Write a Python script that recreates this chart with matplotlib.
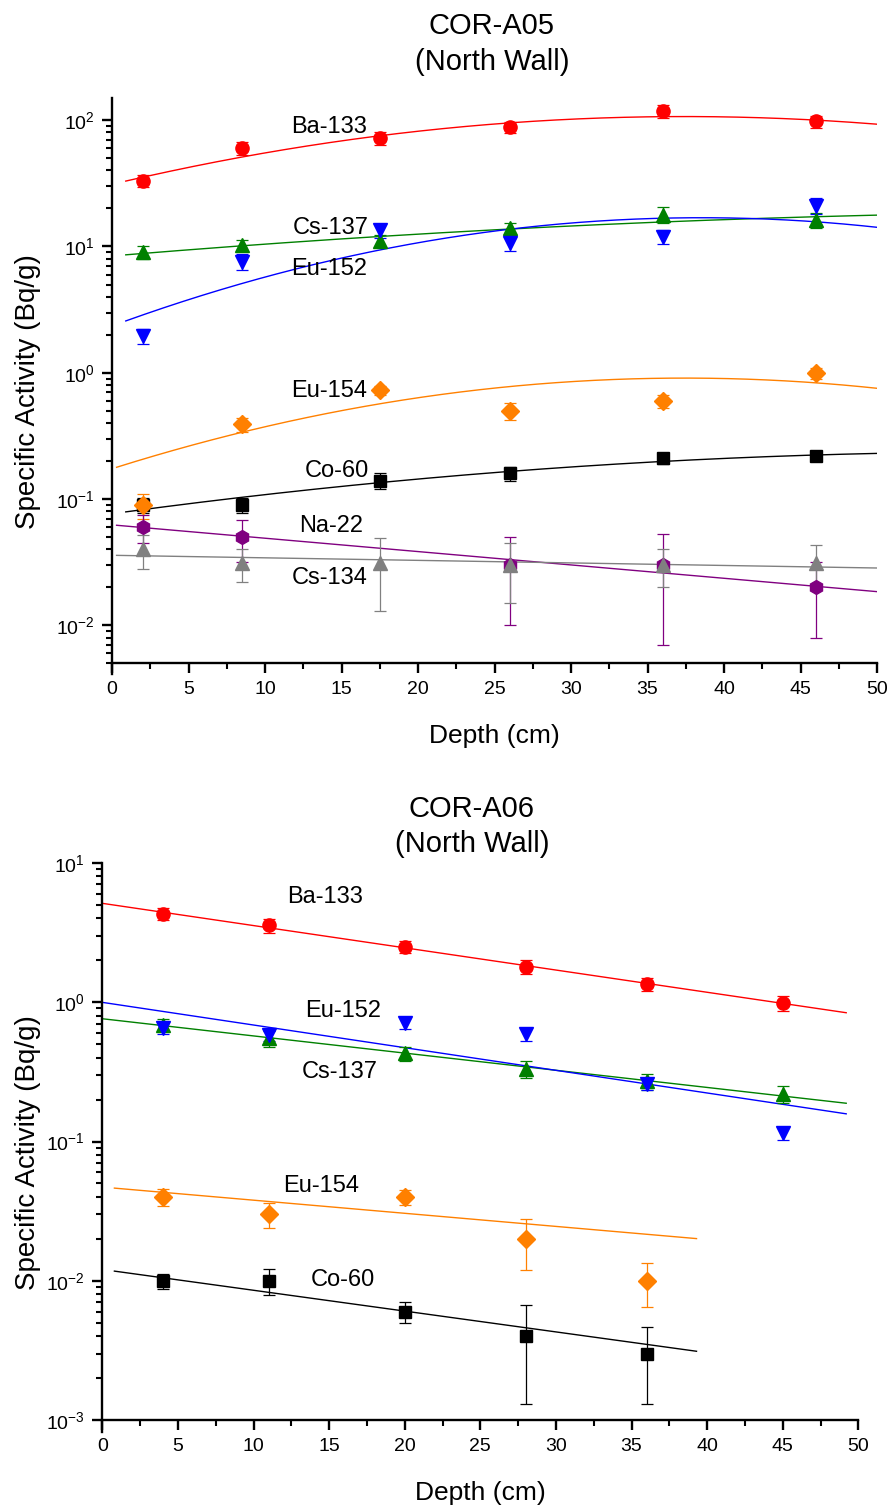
import numpy as np
import matplotlib.pyplot as plt
from matplotlib.ticker import MultipleLocator, LogLocator, NullFormatter

plt.rcParams['font.family'] = ['Liberation Sans', 'DejaVu Sans']
plt.rcParams['mathtext.default'] = 'regular'

# COR-A05 core (north wall)
depth_a05 = [2, 8.5, 17.5, 26, 36, 46]
ba133_a05 = [33, 60, 72, 88, 118, 98]
ba133_a05_err = [3.6, 7, 8, 9, 14, 11]
cs137_a05 = [9.0, 10.2, 11.1, 13.9, 17.9, 16.1]
cs137_a05_err = [1.0, 1.0, 1.2, 1.5, 2.5, 2.2]
eu152_a05 = [1.95, 7.6, 13.4, 10.6, 12.0, 21.0]
eu152_a05_err = [0.27, 1.05, 1.7, 1.35, 1.5, 3.0]
eu154_a05 = [0.09, 0.39, 0.73, 0.50, 0.60, 1.0]
eu154_a05_err = [0.02, 0.05, 0.06, 0.08, 0.07, 0.1]
co60_a05 = [0.09, 0.09, 0.14, 0.16, 0.21, 0.22]
co60_a05_err = [0.012, 0.012, 0.02, 0.02, 0.02, 0.015]
depth_na22_a05 = [2, 8.5, 26, 36, 46]
na22_a05 = [0.06, 0.05, 0.03, 0.03, 0.02]
na22_a05_err = [0.015, 0.018, 0.02, 0.023, 0.012]
cs134_a05 = [0.04, 0.031, 0.031, 0.03, 0.03, 0.031]
cs134_a05_err = [0.012, 0.009, 0.018, 0.015, 0.01, 0.012]

# COR-A06 core (north wall)
depth_a06 = [4, 11, 20, 28, 36, 45]
ba133_a06 = [4.3, 3.55, 2.5, 1.8, 1.35, 0.98]
ba133_a06_err = [0.4, 0.4, 0.26, 0.2, 0.15, 0.12]
eu152_a06 = [0.65, 0.58, 0.71, 0.59, 0.26, 0.115]
eu152_a06_err = [0.06, 0.05, 0.07, 0.06, 0.025, 0.012]
cs137_a06 = [0.69, 0.55, 0.43, 0.33, 0.27, 0.22]
cs137_a06_err = [0.07, 0.07, 0.05, 0.045, 0.035, 0.03]
depth_short_a06 = [4, 11, 20, 28, 36]
eu154_a06 = [0.04, 0.03, 0.04, 0.02, 0.01]
eu154_a06_err = [0.0055, 0.006, 0.005, 0.008, 0.0035]
co60_a06 = [0.01, 0.01, 0.006, 0.004, 0.003]
co60_a06_err = [0.0013, 0.0021, 0.001, 0.0027, 0.0017]

RED, GREEN, BLUE = '#ff0000', '#008000', '#0000ff'
ORANGE, BLACK, PURPLE, GRAY = '#ff8000', '#000000', '#800080', '#808080'


def log_fit(x, y, err, deg, x0, x1):
    # weighted polynomial fit of log10(activity) against depth
    y = np.asarray(y, float)
    sig = np.asarray(err, float) / (y * np.log(10))
    coef = np.polyfit(x, np.log10(y), deg, w=1 / sig)
    xs = np.linspace(x0, x1, 200)
    return xs, 10 ** np.polyval(coef, xs)


# (name, x, y, err, colour, marker, size, fit degree, fit range, label pos)
series_a05 = [
    ('Ba-133', depth_a05, ba133_a05, ba133_a05_err, RED, 'o', 9.5, 2, (0.9, 50), (14.2, 88)),
    ('Cs-137', depth_a05, cs137_a05, cs137_a05_err, GREEN, '^', 10, 2, (0.9, 50), (14.3, 14.0)),
    ('Eu-152', depth_a05, eu152_a05, eu152_a05_err, BLUE, 'v', 10, 2, (0.9, 50), (14.2, 6.6)),
    ('Co-60', depth_a05, co60_a05, co60_a05_err, BLACK, 's', 8.5, 2, (0.9, 50), (14.7, 0.168)),
    ('Eu-154', depth_a05, eu154_a05, eu154_a05_err, ORANGE, 'D', 9.5, 2, (0.3, 50), (14.2, 0.72)),
    ('Na-22', depth_na22_a05, na22_a05, na22_a05_err, PURPLE, 'h', 10, 1, (0.3, 50), (14.3, 0.061)),
    ('Cs-134', depth_a05, cs134_a05, cs134_a05_err, GRAY, '^', 10, 1, (0.3, 50), (14.2, 0.0235)),
]

series_a06 = [
    ('Ba-133', depth_a06, ba133_a06, ba133_a06_err, RED, 'o', 9.5, 1, (0, 49.2), (14.7, 5.7)),
    ('Cs-137', depth_a06, cs137_a06, cs137_a06_err, GREEN, '^', 10, 1, (0, 49.2), (15.7, 0.315)),
    ('Eu-152', depth_a06, eu152_a06, eu152_a06_err, BLUE, 'v', 10, 1, (0, 49.2), (15.9, 0.87)),
    ('Co-60', depth_short_a06, co60_a06, co60_a06_err, BLACK, 's', 8.5, 1, (0.8, 39.3), (15.9, 0.0101)),
    ('Eu-154', depth_short_a06, eu154_a06, eu154_a06_err, ORANGE, 'D', 9.5, 1, (0.8, 39.3), (14.5, 0.048)),
]


def draw_panel(ax, series, ylim, label_xy):
    for name, x, y, err, c, m, ms, deg, (x0, x1), (tx, ty) in series:
        xs, ys = log_fit(x, y, err, deg, x0, x1)
        ax.plot(xs, ys, color=c, lw=1.0, zorder=1)
        ax.errorbar(x, y, yerr=err, fmt=m, color=c, ms=ms, mec=c,
                    elinewidth=0.9, capsize=4, capthick=0.9, zorder=3)
        ax.text(tx, ty, name, fontsize=17, ha='center', va='center', zorder=4)

    ax.set_yscale('log')
    ax.set_xlim(0, 50)
    ax.set_ylim(*ylim)
    ax.xaxis.set_major_locator(MultipleLocator(5))
    ax.xaxis.set_minor_locator(MultipleLocator(2.5))
    ax.yaxis.set_major_locator(LogLocator(base=10, numticks=10))
    ax.yaxis.set_minor_locator(LogLocator(base=10, subs=np.arange(2, 10), numticks=10))
    ax.yaxis.set_minor_formatter(NullFormatter())

    for side in ('top', 'right'):
        ax.spines[side].set_visible(False)
    for side in ('left', 'bottom'):
        ax.spines[side].set_linewidth(1.7)
    ax.spines['left'].set_bounds(ylim[0] * 0.83, ylim[1])

    ax.tick_params(which='major', direction='out', length=7.5, width=1.7,
                   labelsize=14, pad=5)
    ax.tick_params(which='minor', direction='out', length=4.5, width=1.5)

    ax.set_xlabel('Depth (cm)', fontsize=19)
    ax.set_ylabel('Specific Activity (Bq/g)', fontsize=20)
    ax.xaxis.set_label_coords(0.5, label_xy[1])
    ax.yaxis.set_label_coords(label_xy[0], 0.48)


W, H = 892, 1508
fig = plt.figure(figsize=(W / 100, H / 100), dpi=100)

ax1 = fig.add_axes([112 / W, 1 - 663.3 / H, 765 / W, 565.3 / H])
draw_panel(ax1, series_a05, (0.005, 150), (-0.093, -0.107))

ax2 = fig.add_axes([102.3 / W, 1 - 1420.3 / H, 756 / W, 557.6 / H])
draw_panel(ax2, series_a06, (1e-3, 10), (-0.081, -0.109))

title_font = dict(fontsize=21, ha='center', va='center')
fig.text(491 / W, 1 - 26 / H, 'COR-A05', **title_font)
fig.text(492 / W, 1 - 62 / H, '(North Wall)', **title_font)
fig.text(472 / W, 1 - 809 / H, 'COR-A06', **title_font)
fig.text(472 / W, 1 - 844 / H, '(North Wall)', **title_font)

fig.savefig('out.png', dpi=100)
